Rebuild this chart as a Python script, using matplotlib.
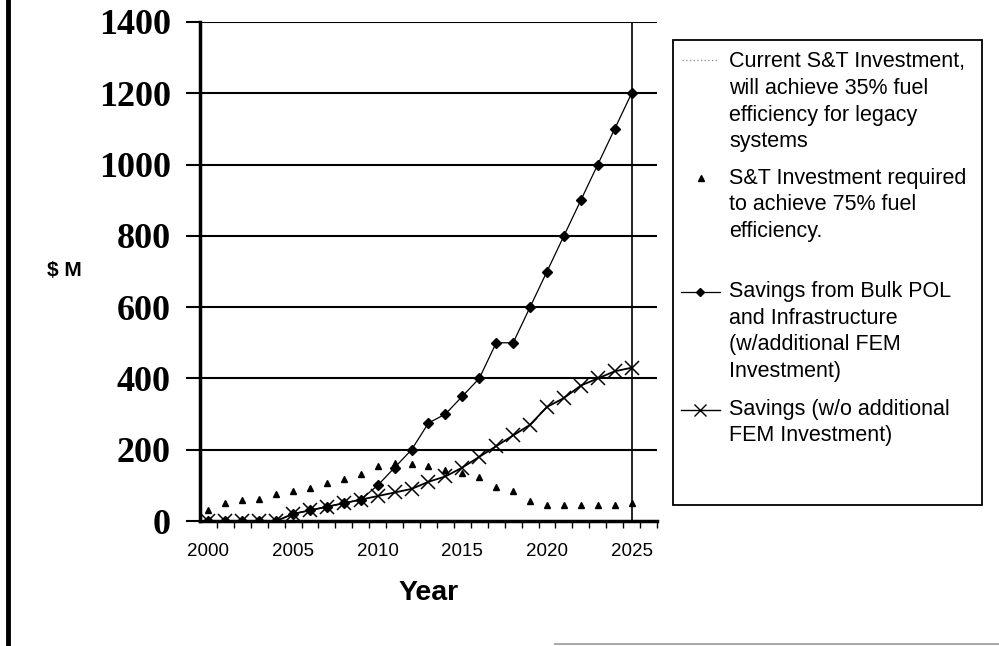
import matplotlib
matplotlib.use("Agg")
import matplotlib.pyplot as plt
from matplotlib.lines import Line2D
from matplotlib.patches import Rectangle

# ---- data ----
years = list(range(2000, 2026))
current_st = [0] * 26
st_required = [30, 50, 58, 62, 75, 85, 92, 108, 118, 132, 153, 162, 160, 155, 143,
               134, 124, 94, 85, 55, 45, 45, 45, 45, 45, 50]
savings_fem = [0, 0, 0, 0, 0, 20, 30, 40, 50, 60, 100, 150, 200, 275, 300,
               350, 400, 500, 500, 600, 700, 800, 900, 1000, 1100, 1200]
savings_nofem = [0, 0, 0, 0, 0, 20, 30, 40, 50, 60, 70, 80, 90, 110, 125,
                 150, 180, 210, 240, 270, 320, 345, 380, 400, 420, 430]
yticks = [0, 200, 400, 600, 800, 1000, 1200, 1400]
xticks = [2000, 2005, 2010, 2015, 2020, 2025]

legend_labels = [
    ["Current S&T Investment,", "will achieve 35% fuel", "efficiency for legacy", "systems"],
    ["S&T Investment required", "to achieve 75% fuel", "efficiency."],
    ["Savings from Bulk POL", "and Infrastructure", "(w/additional FEM", "Investment)"],
    ["Savings (w/o additional", "FEM Investment)"],
]

W, H = 999, 646
fig = plt.figure(figsize=(W / 100, H / 100), dpi=100)
fig.patch.set_facecolor("white")


def fx(x):
    return x / W


def fy(y):
    return 1 - y / H


ax = fig.add_axes([fx(200), fy(521), fx(657) - fx(200), fy(22) - fy(521)])
ax.set_xlim(1999.5, 2026.5)
ax.set_ylim(0, 1400)

# gridlines
for v in yticks[1:]:
    ax.axhline(v, color="black", lw=1.5, zorder=1)
ax.axvline(years[-1], color="black", lw=1.2, zorder=1)

# series
ax.plot(years, current_st, color="#999999", ls=":", lw=1, zorder=2)
ax.plot(years, st_required, ls="none", marker="^", ms=4.5, color="black", zorder=3)
ax.plot(years, savings_fem, color="black", lw=0.9, marker="D", ms=5, zorder=4)
ax.plot(years, savings_nofem, color="black", lw=1.3, marker="x", ms=10, mew=1.1, zorder=5)

# spines
for s in ["top", "right"]:
    ax.spines[s].set_visible(False)
ax.spines["left"].set_linewidth(2.5)
ax.spines["bottom"].set_linewidth(2.5)

ax.set_yticks(yticks)
ax.set_yticklabels([str(v) for v in yticks], fontfamily="Liberation Serif",
                   fontweight="bold", fontsize=26)
ax.tick_params(axis="y", direction="out", length=10, width=1.5, pad=11)

ax.set_xticks(xticks)
ax.set_xticklabels([str(v) for v in xticks], fontfamily="Liberation Sans", fontsize=13.5)
ax.tick_params(axis="x", which="major", length=0, pad=16)
ax.set_xticks([y + 0.5 for y in years] + [2026.5], minor=True)
ax.tick_params(axis="x", which="minor", direction="out", length=5, width=1)

# axis titles
fig.text(fx(64), fy(271), "$ M", fontfamily="Liberation Sans", fontweight="bold",
         fontsize=15, ha="center", va="center")
fig.text(fx(429), fy(593), "Year", fontfamily="Liberation Sans", fontweight="bold",
         fontsize=20.5, ha="center", va="center")

# page border pieces
fig.add_artist(Line2D([fx(8), fx(8)], [0, 1], color="black", lw=3.5))
fig.add_artist(Line2D([fx(555), 1], [fy(644), fy(644)], color="#aaaaaa", lw=1.5))

# legend box
fig.add_artist(Rectangle((fx(673), fy(505)), fx(982) - fx(673), fy(40) - fy(505),
                         fill=False, edgecolor="black", lw=1.3))
line_ys = [[62, 89, 116, 142], [178, 205, 231], [292, 319, 345, 372], [410, 436]]
for lines, ys in zip(legend_labels, line_ys):
    for t, yy in zip(lines, ys):
        fig.text(fx(729), fy(yy), t, fontfamily="Liberation Sans", fontsize=15.5,
                 ha="left", va="center")

fig.add_artist(Line2D([fx(682), fx(718)], [fy(60), fy(60)], color="#999999", ls=":", lw=1))
fig.add_artist(Line2D([fx(701)], [fy(178)], marker="^", ms=4.5, color="black", ls="none"))
fig.add_artist(Line2D([fx(681), fx(720)], [fy(292), fy(292)], color="black", lw=0.9))
fig.add_artist(Line2D([fx(700)], [fy(292)], marker="D", ms=4.5, color="black", ls="none"))
fig.add_artist(Line2D([fx(681), fx(720)], [fy(410), fy(410)], color="black", lw=1.0))
fig.add_artist(Line2D([fx(700)], [fy(410)], marker="x", ms=9, mew=1.0, color="black", ls="none"))

fig.savefig("out.png", dpi=100)
